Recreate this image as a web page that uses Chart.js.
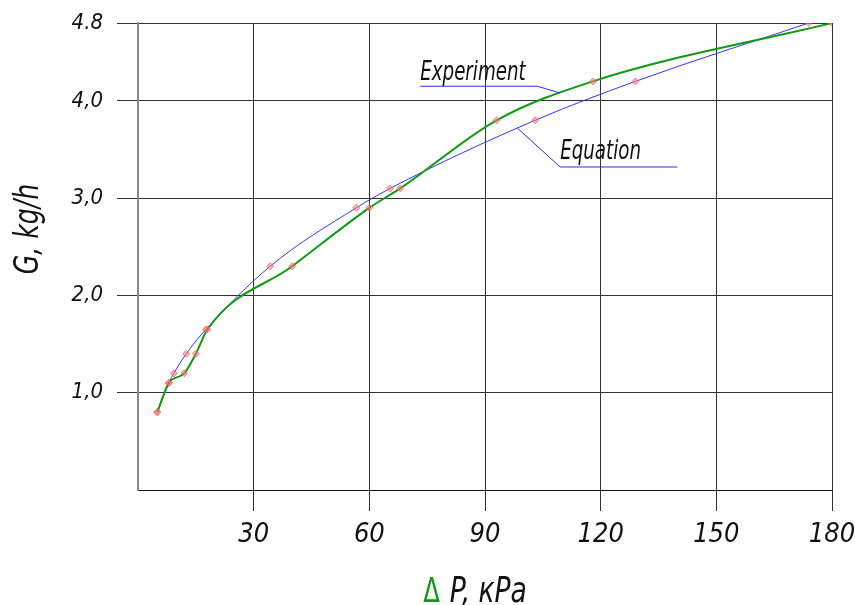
<!DOCTYPE html>
<html>
<head>
<meta charset="utf-8">
<script src="https://cdn.jsdelivr.net/npm/chart.js@4/dist/chart.umd.min.js"></script>
<style>
html, body { margin: 0; padding: 0; background: #fff; }
#wrap { width: 855px; height: 605px; }
</style>
</head>
<body>
<div id="wrap"><canvas id="chart"></canvas></div>
<script>
// Experiment: pressure drop (kPa) vs flow (kg/h)
const expDP = [5, 8, 12, 15, 18, 40, 60, 68, 93, 118, 180];
const expG = [0.8, 1.1, 1.2, 1.4, 1.65, 2.3, 2.9, 3.1, 3.8, 4.2, 4.8];
// Equation: computed pressure drop for the same flows
const eqDP = [5, 8, 9.3, 12.5, 17.6, 34.3, 56.6, 65.4, 103, 129, 174];
const eqG = [0.8, 1.1, 1.2, 1.4, 1.65, 2.3, 2.9, 3.1, 3.8, 4.2, 4.8];

const xTicks = [0, 30, 60, 90, 120, 150, 180];
const xTickLabels = ['', '30', '60', '90', '120', '150', '180'];
const yTicks = [0, 1, 2, 3, 4, 4.8];
const yTickLabels = ['', '1,0', '2,0', '3,0', '4,0', '4.8'];

const xTitleDelta = 'Δ';
const xTitleRest = ' P, кPa';
const yTitle = 'G, kg/h';

// callouts, in data units (kPa, kg/h)
const calloutText = ['Experiment', 'Equation'];
const calloutAt = [[73.2, 4.21], [109.5, 3.40]];
const calloutLine = [
    [[73.2, 4.15], [103.6, 4.15], [109.5, 4.08]],
    [[98.4, 3.72], [109.5, 3.32], [139.9, 3.32]]
];

const FAMILY = "'DejaVu Sans Condensed', 'Liberation Sans Narrow', sans-serif";
const INK = '#111';

function toXY(xs, ys) {
    return xs.map((x, i) => ({ x: x, y: ys[i] }));
}

const marker = {
    pointStyle: 'rectRot',
    pointRadius: 3.5,
    pointBackgroundColor: 'rgba(255,120,120,0.55)',
    pointBorderColor: 'rgba(255,90,90,0.7)',
    pointBorderWidth: 1
};

// narrow text: draw squeezed horizontally
function narrowText(ctx, text, x, y, squeeze) {
    ctx.save();
    ctx.translate(x, y);
    ctx.scale(squeeze, 1);
    ctx.fillText(text, 0, 0);
    ctx.restore();
}

const calloutPlugin = {
    id: 'callouts',
    afterDatasetsDraw(chart) {
        const ctx = chart.ctx;
        const sx = chart.scales.x, sy = chart.scales.y;
        ctx.save();
        ctx.strokeStyle = '#2a2aff';
        ctx.lineWidth = 1;
        calloutLine.forEach(pts => {
            ctx.beginPath();
            pts.forEach((p, i) => {
                const px = sx.getPixelForValue(p[0]), py = sy.getPixelForValue(p[1]);
                if (i === 0) ctx.moveTo(px, py); else ctx.lineTo(px, py);
            });
            ctx.stroke();
        });
        ctx.fillStyle = INK;
        ctx.font = 'italic 26px ' + FAMILY;
        ctx.textBaseline = 'alphabetic';
        calloutText.forEach((t, i) => {
            narrowText(ctx, t, sx.getPixelForValue(calloutAt[i][0]), sy.getPixelForValue(calloutAt[i][1]), 0.78);
        });

        // axis titles
        const sq = 0.82;
        ctx.font = 'italic 36px ' + FAMILY;
        const wD = ctx.measureText(xTitleDelta).width * sq;
        const wR = ctx.measureText(xTitleRest).width * sq;
        const x0 = 475 - (wD + wR) / 2;
        ctx.font = '33px ' + FAMILY;
        ctx.fillStyle = '#119911';
        narrowText(ctx, xTitleDelta, x0, 602, sq);
        ctx.font = 'italic 36px ' + FAMILY;
        ctx.fillStyle = INK;
        narrowText(ctx, xTitleRest, x0 + wD, 602, sq);

        ctx.translate(38, 229);
        ctx.rotate(-Math.PI / 2);
        ctx.scale(0.85, 1);
        ctx.font = 'italic 33px ' + FAMILY;
        ctx.textAlign = 'center';
        ctx.fillText(yTitle, 0, 0);
        ctx.restore();
    }
};

new Chart(document.getElementById('chart'), {
    type: 'line',
    data: {
        datasets: [
            {
                label: 'Experiment',
                data: toXY(expDP, expG),
                borderColor: '#109a10',
                borderWidth: 2,
                cubicInterpolationMode: 'monotone',
                ...marker
            },
            {
                label: 'Equation',
                data: toXY(eqDP, eqG),
                borderColor: '#3535ff',
                borderWidth: 1,
                cubicInterpolationMode: 'monotone',
                ...marker
            }
        ]
    },
    options: {
        responsive: true,
        maintainAspectRatio: false,
        animation: false,
        layout: { padding: { top: 23, right: 23, left: 0, bottom: 0 } },
        plugins: { legend: { display: false }, tooltip: { enabled: false } },
        scales: {
            x: {
                type: 'linear',
                min: 0,
                max: 180,
                afterBuildTicks: s => { s.ticks = xTicks.map(v => ({ value: v })); },
                afterFit: s => { s.height = 115; s.paddingLeft = 0; s.paddingRight = 0; },
                ticks: {
                    autoSkip: false,
                    maxRotation: 0,
                    padding: 8,
                    color: INK,
                    font: { family: FAMILY, size: 27, style: 'italic' },
                    callback: (v, i) => xTickLabels[i]
                },
                grid: {
                    color: '#333',
                    lineWidth: 1,
                    tickLength: 21,
                    tickColor: c => c.tick && c.tick.value === 0 ? 'rgba(0,0,0,0)' : '#333'
                },
                border: { color: INK, width: 1 }
            },
            y: {
                type: 'linear',
                min: 0,
                max: 4.8,
                afterBuildTicks: s => { s.ticks = yTicks.map(v => ({ value: v })); },
                afterFit: s => { s.width = 138; s.paddingTop = 0; s.paddingBottom = 0; },
                ticks: {
                    autoSkip: false,
                    padding: 14,
                    color: INK,
                    font: { family: FAMILY, size: 22, style: 'italic' },
                    callback: (v, i) => yTickLabels[i]
                },
                grid: {
                    color: '#333',
                    lineWidth: 1,
                    tickLength: 21,
                    tickColor: c => c.tick && c.tick.value === 0 ? 'rgba(0,0,0,0)' : '#333'
                },
                border: { color: '#888', width: 2 }
            }
        }
    },
    plugins: [calloutPlugin]
});
</script>
</body>
</html>
